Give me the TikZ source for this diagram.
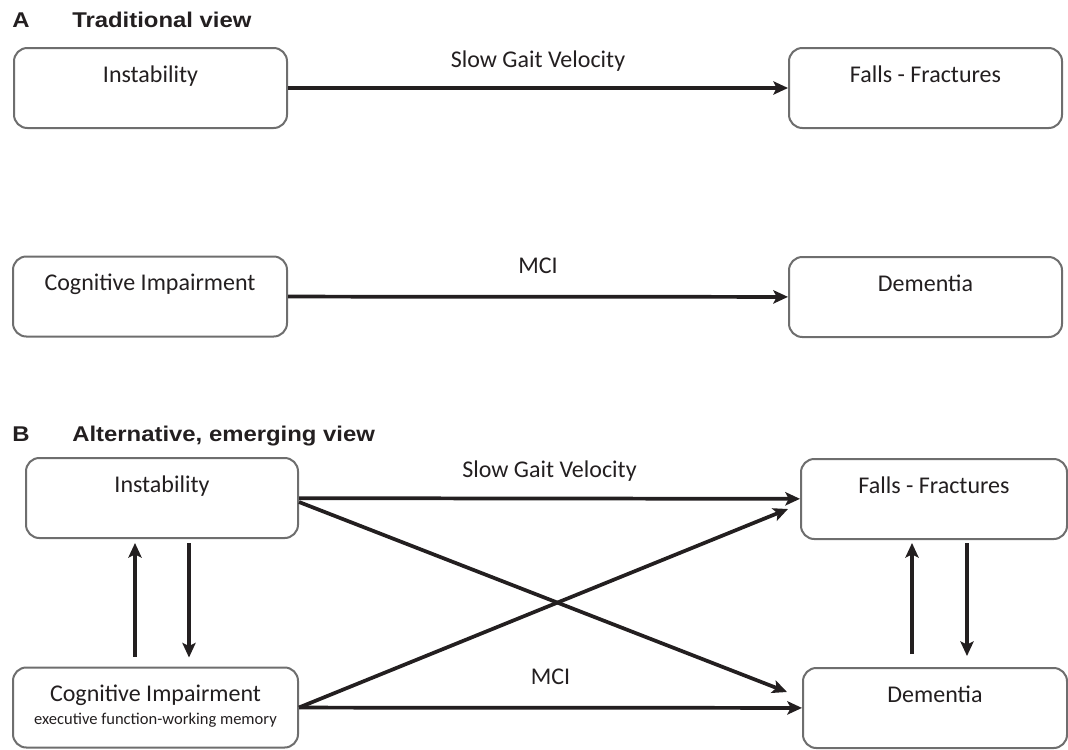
\documentclass[tikz,border=0pt]{standalone}
\usepackage{fontspec}
\setmainfont{Carlito}
\newfontfamily\headfont[FakeStretch=1.12]{Liberation Sans}
\usetikzlibrary{arrows.meta,calc}
\definecolor{Ink}{HTML}{231F20}
\definecolor{Frame}{HTML}{6E6E6E}
\tikzset{box/.style={draw=Frame,line width=1.5pt,rounded corners=10pt,fill=white,inner xsep=0pt,inner ysep=0pt,minimum height=60pt,text height=25.5pt,text depth=34.5pt,text=Ink,font=\fontsize{18}{21.6}\selectfont},heading/.style={anchor=base west,inner sep=0pt,text=Ink,font=\headfont\bfseries\fontsize{16}{19}\selectfont},edgetext/.style={inner sep=0pt,text depth=0pt,text=Ink,font=\fontsize{18}{21.6}\selectfont},flow/.style={-{Stealth[length=11pt,width=10pt,inset=2.5pt]},line width=2.8pt,draw=Ink}}

\begin{document}
\begin{tikzpicture}[x=.75pt,y=-.75pt]
        \useasboundingbox(0,0)rectangle(1068,750);
        % A: traditional view
        \node[heading](letterA)at(12,27){A};
        \node[heading](titleA)at(72,27){Traditional view};
        \node[box,minimum width=204.75pt](instA)at(150.5,88){Instability};
        \node[box,minimum width=204.75pt](fallA)at(925.5,88){Falls - Fractures};
        \node[box,minimum width=205.5pt](cogA)at(150,296.5){Cognitive Impairment};
        \node[box,minimum width=204.75pt](demA)at(925.5,297){Dementia};
        \draw[flow](instA)--node[edgetext,above=14.25pt](gaitA){Slow Gait Velocity}(fallA);
        \draw[flow](cogA)--node[edgetext,above=15.75pt](mciA){MCI}(demA);
        % B: alternative, emerging view
        \node[heading](letterB)at(12,441){B};
        \node[heading](titleB)at(72,441){Alternative, emerging view};
        \node[box,minimum width=204pt](instB)at(162,498){Instability};
        \node[box,minimum width=199.5pt](fallB)at(934,499){Falls - Fractures};
        \node[box,minimum width=213.75pt](cogB)at(155.5,707.5){\begin{tabular}[t]{@{}c@{}}Cognitive Impairment\\[-4.6pt]\fontsize{12.4}{14}\selectfont executive function-working memory\end{tabular}};
        \node[box,minimum width=198pt](demB)at(935,708){Dementia};
        \coordinate(fallIn)at($(fallB.west)+(-12,10)$);
        \coordinate(demIn)at($(demB.west)+(-15,-16)$);
        \draw[flow](instB)--node[edgetext,above=14.25pt](gaitB){Slow Gait Velocity}(fallB);
        \draw[flow](cogB)--node[edgetext,above=15.75pt](mciB){MCI}(demB);
        \draw[flow]([shift={(0,4)}]instB.east)--(demIn);
        \draw[flow](cogB.east)--(fallIn);
        \draw[flow]([shift={(-20.5,-10)}]cogB.north)--([shift={(-27,4)}]instB.south);
        \draw[flow]([shift={(27,4)}]instB.south)--([shift={(33.5,-9)}]cogB.north);
        \draw[flow]([shift={(-23,-13)}]demB.north)--([shift={(-22,3)}]fallB.south);
        \draw[flow]([shift={(33,3)}]fallB.south)--([shift={(32,-11)}]demB.north);
      \end{tikzpicture}
\end{document}
